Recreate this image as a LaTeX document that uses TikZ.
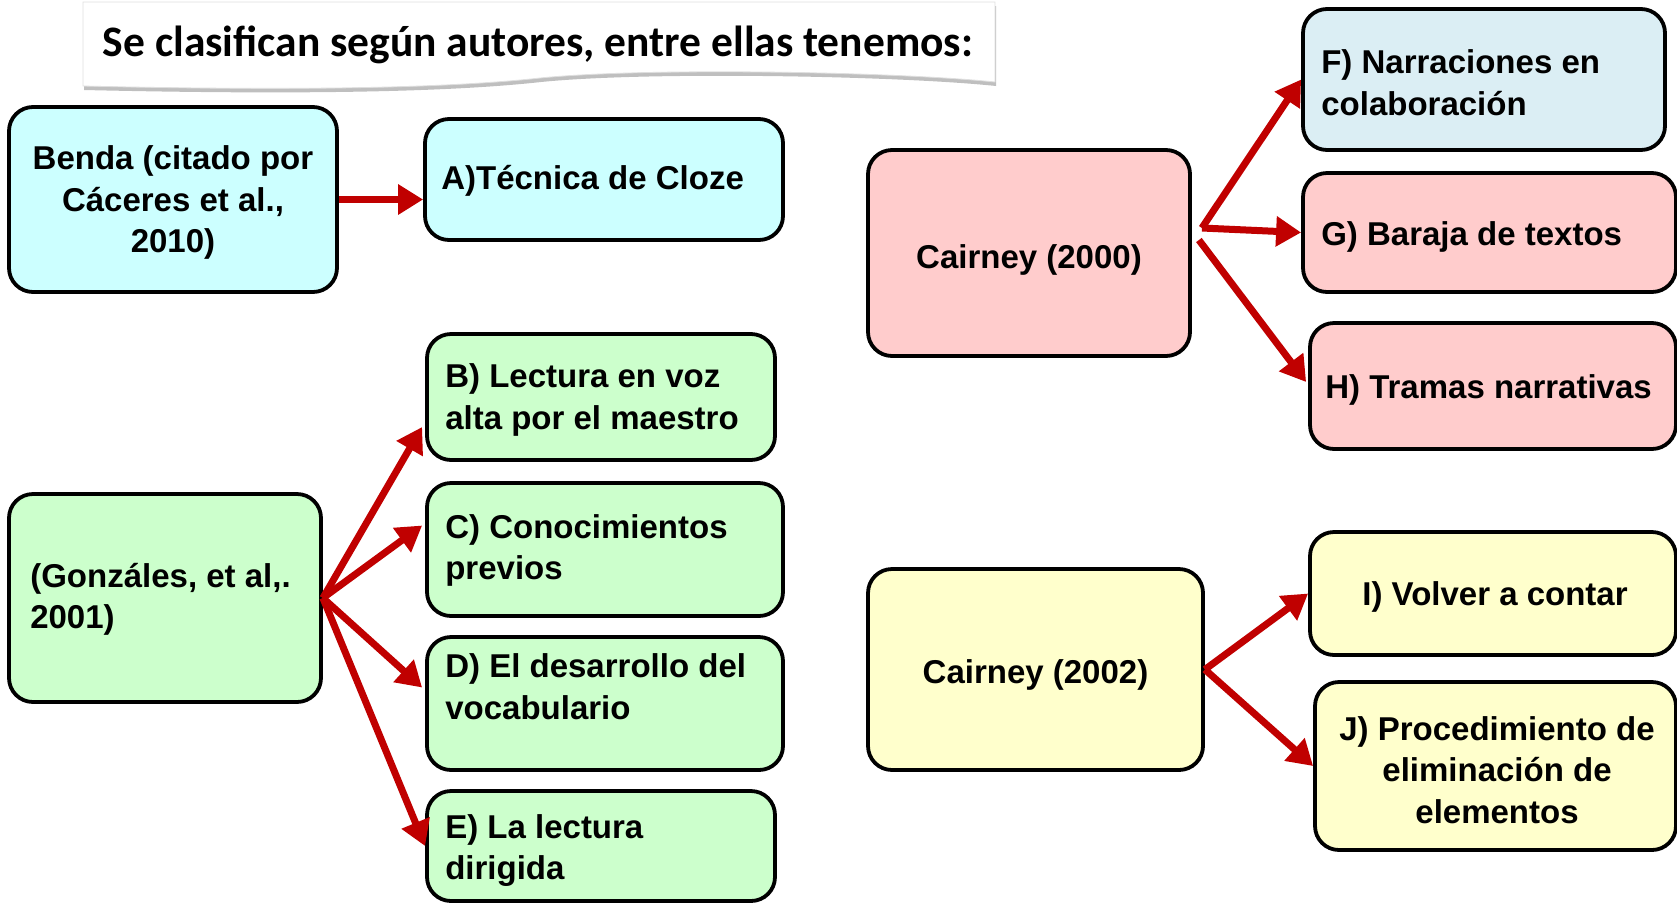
\documentclass[tikz,border=0pt]{standalone}
\usepackage{fontspec}
\setmainfont{Liberation Sans}
\newfontfamily\titlefont{Carlito}
\usetikzlibrary{arrows.meta,calc}
\definecolor{cyanbox}{HTML}{CCFFFF}
\definecolor{fbox}{HTML}{DBEEF4}
\definecolor{pinkbox}{HTML}{FFCCCC}
\definecolor{greenbox}{HTML}{CCFFCC}
\definecolor{yellowbox}{HTML}{FFFFCC}
\definecolor{arrowred}{HTML}{C00000}
\newcommand{\ttlpath}{(83,2) -- (995,2) -- (995,82) .. controls (900,72) and (650,67) .. (540,78) .. controls (450,88) and (300,91) .. (83,86) -- cycle}
\begin{document}
\begin{tikzpicture}[x=1pt,y=-1pt,
  box/.style={draw=black, line width=3.8pt, rounded corners=24pt, inner sep=0pt},
  ltxt/.style={font=\bfseries\fontsize{33}{41.5}\selectfont, align=left, inner sep=0pt, anchor=west},
  ctxt/.style={font=\bfseries\fontsize{33}{41.5}\selectfont, align=center, inner sep=0pt},
  arr/.style={draw=arrowred, line width=7pt, -{Triangle[length=25pt,width=29pt]}}]
\useasboundingbox (0,0) rectangle (1677,903);
% title
\fill[gray!50, shift={(1,4)}] \ttlpath;
\fill[white] \ttlpath;
\draw[gray!25, line width=0.8pt] \ttlpath;
\node[font=\titlefont\bfseries\fontsize{43.5}{50}\selectfont, anchor=base, inner sep=0pt] (title) at (538,56) {Se clasifican según autores, entre ellas tenemos:};
% boxes
\node[box, fill=cyanbox, minimum width=328pt, minimum height=185pt] (Benda) at (173,199.5) {};
\node[box, fill=cyanbox, minimum width=358pt, minimum height=121pt] (A) at (604,179.5) {};
\node[box, fill=pinkbox, minimum width=322pt, minimum height=206pt] (CA) at (1029,253) {};
\node[box, fill=fbox, minimum width=362pt, minimum height=141pt] (F) at (1484,79.5) {};
\node[box, fill=pinkbox, minimum width=373pt, minimum height=119pt] (G) at (1489.5,232.5) {};
\node[box, fill=pinkbox, minimum width=366pt, minimum height=126pt] (H) at (1493,386) {};
\node[box, fill=greenbox, minimum width=312pt, minimum height=208pt] (Gz) at (165,598) {};
\node[box, fill=greenbox, minimum width=348pt, minimum height=126pt] (B) at (601,397) {};
\node[box, fill=greenbox, minimum width=356pt, minimum height=133pt] (C) at (605,549.5) {};
\node[box, fill=greenbox, minimum width=356pt, minimum height=133pt] (D) at (605,703.5) {};
\node[box, fill=greenbox, minimum width=348pt, minimum height=110pt] (E) at (601,846) {};
\node[box, fill=yellowbox, minimum width=335pt, minimum height=201pt] (CB) at (1035.5,669.5) {};
\node[box, fill=yellowbox, minimum width=366pt, minimum height=123pt] (I) at (1493,593.5) {};
\node[box, fill=yellowbox, minimum width=361pt, minimum height=168pt] (J) at (1495.5,766) {};
% texts
\node[ctxt] (tBenda) at ($(Benda.center)+(0,3)$) {Benda (citado por\\Cáceres et al.,\\2010)};
\node[ltxt] (tA) at ($(A.west)+(18,1)$) {A)Técnica de Cloze};
\node[ctxt] (tCA) at ($(CA.center)+(0,7)$) {Cairney (2000)};
\node[ltxt] (tF) at ($(F.west)+(20,3)$) {F) Narraciones en\\colaboración};
\node[ltxt] (tG) at ($(G.west)+(20,4.5)$) {G) Baraja de textos};
\node[ltxt] (tH) at ($(H.west)+(17,4)$) {H) Tramas narrativas};
\node[ltxt] (tGz) at ($(Gz.west)+(23,1.5)$) {(Gonzáles, et al,.\\2001)};
\node[ltxt] (tB) at ($(B.west)+(20,3)$) {B) Lectura en voz\\alta por el maestro};
\node[ltxt] (tC) at ($(C.west)+(20,1)$) {C) Conocimientos\\previos};
\node[ltxt] (tD) at ($(D.west)+(20,-17)$) {D) El desarrollo del\\vocabulario};
\node[ltxt] (tE) at ($(E.west)+(20,4.5)$) {E) La lectura\\dirigida};
\node[ctxt] (tCB) at ($(CB.center)+(0,5.5)$) {Cairney (2002)};
\node[ctxt] (tI) at ($(I.center)+(2,3.5)$) {I) Volver a contar};
\node[ctxt] (tJ) at ($(J.center)+(1.5,4)$) {J) Procedimiento de\\eliminación de\\elementos};
% connectors
\coordinate (oA1) at ($(CA.east)+(10,-25)$);
\coordinate (oA2) at ($(CA.east)+(7,-13)$);
\draw[arr] (Benda.east) -- (Benda.east -| A.west);
\draw[arr] (Gz.east) -- ($(B.west)+(-3,30)$);
\draw[arr] (Gz.east) -- ($(C.west)+(-3,-24)$);
\draw[arr] (Gz.east) -- ($(D.west)+(-3,-16)$);
\draw[arr] (Gz.east) -- (E.west);
\draw[arr] (oA1) -- (F.west);
\draw[arr] (oA1) -- (G.west);
\draw[arr] (oA2) -- ($(H.west)+(-2,-4)$);
\draw[arr] (CB.east) -- (I.west);
\draw[arr] (CB.east) -- (J.west);
\end{tikzpicture}
\end{document}
